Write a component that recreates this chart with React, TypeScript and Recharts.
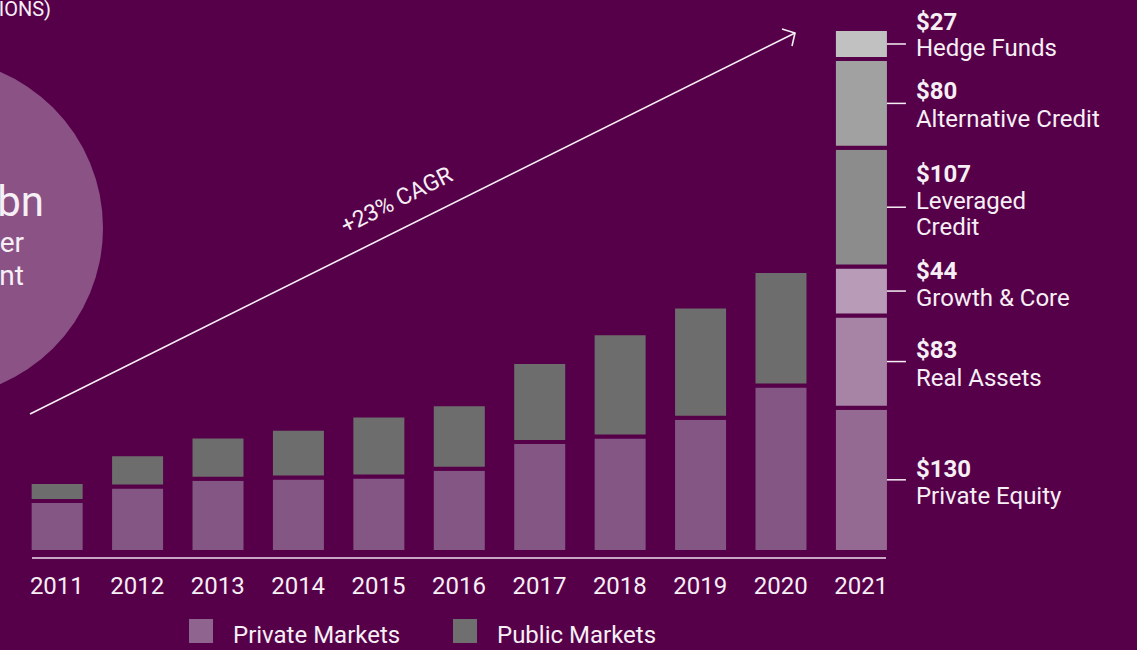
import { BarChart, Bar, XAxis, YAxis, LabelList } from "recharts";

const YEARS = ["2011", "2012", "2013", "2014", "2015", "2016", "2017", "2018", "2019", "2020", "2021"];
const PRIVATE_MARKETS = [46, 59, 66, 67, 68, 75, 99, 104, 121, 150, null];
const PUBLIC_MARKETS = [17, 29, 38, 44, 55, 58, 72, 93, 100, 103, null];

// 2021 breakdown, bottom to top
const SEGMENT_YEAR = "2021";
const SEGMENT_VALUES = [130, 83, 44, 107, 80, 27];
const SEGMENT_LINES = [
  ["Private Equity"],
  ["Real Assets"],
  ["Growth & Core"],
  ["Leveraged", "Credit"],
  ["Alternative Credit"],
  ["Hedge Funds"],
];

const LEGEND_NAMES = ["Private Markets", "Public Markets"];
const TOTAL_LABEL = "$471 bn";

const BG = "#57004a";
const TEXT = "#f6eff5";
const PRIVATE_COLOR = "#835683";
const PUBLIC_COLOR = "#6d6d6d";
const SEGMENT_COLORS = ["#946a92", "#a784a6", "#b89bb7", "#8c8c8c", "#a1a1a1", "#c1c1c1"];
const LEGEND_COLORS = ["#8f6590", "#6f6f6f"];

// baseline offsets of value / name lines from segment middle
const LABEL_DY = [
  [-3, 24],
  [-4, 24],
  [-12, 15],
  [-25, 2, 28],
  [-4, 24],
  [-14, 12],
];

const FONT = "Roboto, 'Noto Sans', sans-serif";

const data = YEARS.map((year, i) => {
  const row: Record<string, string | number | null> = {
    year,
    private: PRIVATE_MARKETS[i],
    public: PUBLIC_MARKETS[i],
  };
  SEGMENT_VALUES.forEach((v, k) => {
    row["seg" + k] = year === SEGMENT_YEAR ? v : null;
  });
  return row;
});

function segmentLabel(k: number) {
  return (props: any) => {
    const { value } = props;
    if (value == null) return null;
    const vb = props.viewBox || props;
    const x = Number(vb.x);
    const y = Number(vb.y);
    const w = Number(vb.width);
    const h = Number(vb.height);
    const right = x + w - 2;
    const mid = y + h / 2;
    const dys = LABEL_DY[k];
    return (
      <g>
        <line x1={right} x2={right + 19} y1={mid} y2={mid} stroke={TEXT} strokeWidth={1.5} />
        <text x={right + 29} y={mid + dys[0]} fill={TEXT} fontSize={24} fontWeight={700} fontFamily={FONT}>
          ${value}
        </text>
        {SEGMENT_LINES[k].map((line, j) => (
          <text key={j} x={right + 29} y={mid + dys[j + 1]} fill={TEXT} fontSize={24} fontFamily={FONT}>
            {line}
          </text>
        ))}
      </g>
    );
  };
}

function Overlay() {
  return (
    <svg width={1137} height={650} style={{ position: "absolute", left: 0, top: 0 }}>
      <circle cx={-67} cy={228} r={170} fill="#8b5286" />
      <text x={51} y={16} textAnchor="end" fill={TEXT} fontSize={20} fontFamily={FONT}>
        (US$ IN BILLIONS)
      </text>
      <text x={44} y={216} textAnchor="end" fill={TEXT} fontSize={42} fontFamily={FONT}>
        {TOTAL_LABEL}
      </text>
      <text x={24} y={252} textAnchor="end" fill={TEXT} fontSize={28} fontFamily={FONT}>
        Assets Under
      </text>
      <text x={24} y={285} textAnchor="end" fill={TEXT} fontSize={28} fontFamily={FONT}>
        Management
      </text>

      <line x1={30} y1={414} x2={795} y2={33} stroke={TEXT} strokeWidth={1.6} />
      <polyline points="782,29 795,33 792,46" fill="none" stroke={TEXT} strokeWidth={1.6} />
      <text
        x={400}
        y={207}
        textAnchor="middle"
        fill={TEXT}
        fontSize={23}
        fontFamily={FONT}
        transform="rotate(-26.5 400 207)"
      >
        +23% CAGR
      </text>

      {LEGEND_NAMES.map((name, i) => (
        <g key={name}>
          <rect x={189 + i * 264} y={619} width={24} height={24} fill={LEGEND_COLORS[i]} />
          <text x={233 + i * 264} y={643} fill={TEXT} fontSize={24} fontFamily={FONT}>
            {name}
          </text>
        </g>
      ))}
    </svg>
  );
}

export default function App() {
  return (
    <div
      style={{
        position: "absolute",
        left: 0,
        top: 0,
        width: 1137,
        height: 650,
        background: BG,
        overflow: "hidden",
        fontFamily: FONT,
      }}
    >
      <Overlay />
      <div style={{ position: "absolute", left: 0, top: 0 }}>
        <BarChart
          width={1137}
          height={650}
          data={data}
          margin={{ top: 19, right: 251, bottom: 52, left: 32 }}
        >
          <XAxis
            dataKey="year"
            interval={0}
            height={40}
            padding={{ left: -15.35, right: -15.35 }}
            axisLine={{ stroke: "#c9a6c6", strokeWidth: 2 }}
            tickLine={false}
            tickSize={0}
            tickMargin={19}
            tick={{ fill: TEXT, fontSize: 24, fontFamily: FONT }}
          />
          <YAxis hide domain={[-5.4, 480]} type="number" allowDataOverflow />
          <Bar dataKey="private" stackId="s" fill={PRIVATE_COLOR} stroke={BG} strokeWidth={4} barSize={55} isAnimationActive={false} />
          <Bar dataKey="public" stackId="s" fill={PUBLIC_COLOR} stroke={BG} strokeWidth={4} barSize={55} isAnimationActive={false} />
          {SEGMENT_VALUES.map((_, k) => (
            <Bar
              key={k}
              dataKey={"seg" + k}
              stackId="s"
              fill={SEGMENT_COLORS[k]}
              stroke={BG}
              strokeWidth={4}
              barSize={55}
              isAnimationActive={false}
            >
              <LabelList dataKey={"seg" + k} content={segmentLabel(k)} />
            </Bar>
          ))}
        </BarChart>
      </div>
    </div>
  );
}
